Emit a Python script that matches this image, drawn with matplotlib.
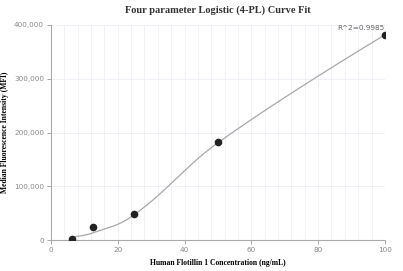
import numpy as np
import matplotlib
matplotlib.use("Agg")
import matplotlib.pyplot as plt
from matplotlib.ticker import FuncFormatter, MultipleLocator

conc = [6.25, 12.5, 25, 50, 100]
mfi = [1500, 24500, 48000, 181500, 381500]
fit_mfi = [5600, 13300, 47500, 181000, 381500]   # fitted 4PL values
r2_label = "R^2=0.9985"

fig = plt.figure(figsize=(4.03, 2.71), dpi=100)
ax = fig.add_axes([0.1266, 0.114, 0.8284, 0.794])
ax.set_xlim(0, 100)
ax.set_ylim(0, 400000)


def spline_path(px, py, smoothing=1.5, n=40):
    """Smooth cubic-Bezier spline through pixel points (chart-style spline)."""
    m = len(px)
    denom = smoothing + 1
    lc = [None] * m
    rc = [None] * m
    for i in range(1, m - 1):
        x0, y0 = px[i], py[i]
        lx, ly = px[i - 1], py[i - 1]
        nx, ny = px[i + 1], py[i + 1]
        lcx = (smoothing * x0 + lx) / denom
        lcy = (smoothing * y0 + ly) / denom
        rcx = (smoothing * x0 + nx) / denom
        rcy = (smoothing * y0 + ny) / denom
        corr = 0.0
        if rcx != lcx:
            corr = ((rcy - lcy) * (rcx - x0)) / (rcx - lcx) + y0 - rcy
        lcy += corr
        rcy += corr
        if lcy > ly and lcy > y0:
            lcy = max(ly, y0); rcy = 2 * y0 - lcy
        elif lcy < ly and lcy < y0:
            lcy = min(ly, y0); rcy = 2 * y0 - lcy
        if rcy > ny and rcy > y0:
            rcy = max(ny, y0); lcy = 2 * y0 - rcy
        elif rcy < ny and rcy < y0:
            rcy = min(ny, y0); lcy = 2 * y0 - rcy
        lc[i] = (lcx, lcy)
        rc[i] = (rcx, rcy)
    out_x, out_y = [px[0]], [py[0]]
    t = np.linspace(0, 1, n)[1:]
    for i in range(1, m):
        p0 = np.array([px[i - 1], py[i - 1]])
        p1 = np.array(rc[i - 1] if rc[i - 1] is not None else p0)
        p3 = np.array([px[i], py[i]])
        p2 = np.array(lc[i] if lc[i] is not None else p3)
        b = ((1 - t) ** 3)[:, None] * p0 + (3 * (1 - t) ** 2 * t)[:, None] * p1 \
            + (3 * (1 - t) * t ** 2)[:, None] * p2 + (t ** 3)[:, None] * p3
        out_x.extend(b[:, 0]); out_y.extend(b[:, 1])
    return np.array(out_x), np.array(out_y)


disp = ax.transData.transform(np.column_stack([conc, fit_mfi]))
sx, sy = spline_path(disp[:, 0], disp[:, 1])
curve = ax.transData.inverted().transform(np.column_stack([sx, sy]))
ax.plot(curve[:, 0], curve[:, 1], color="#a8a8a8", lw=0.9, zorder=2)
ax.scatter(conc, mfi, s=20, color="#222222", zorder=3)

ax.xaxis.set_major_locator(MultipleLocator(20))
ax.xaxis.set_minor_locator(MultipleLocator(4))
ax.yaxis.set_major_locator(MultipleLocator(100000))
ax.yaxis.set_major_formatter(FuncFormatter(lambda v, p: f"{int(v):,}"))
ax.grid(True, which="both", axis="x", color="#eeeef5", lw=0.6, zorder=0)
ax.grid(True, which="major", axis="y", color="#eeeef5", lw=0.6, zorder=0)
ax.tick_params(which="minor", length=0)
ax.tick_params(which="major", length=3, width=0.6, color="#999999",
               labelsize=5.2, labelcolor="#888888", pad=2)
for s in ["top", "right"]:
    ax.spines[s].set_visible(False)
for s in ["left", "bottom"]:
    ax.spines[s].set_color("#aaaaaa")
    ax.spines[s].set_linewidth(0.8)
ax.set_axisbelow(True)
ax.text(100, 388000, r2_label, fontsize=5.2, color="#666666", ha="right", va="bottom")
ax.set_title("Four parameter Logistic (4-PL) Curve Fit", fontsize=7.5,
             fontweight="bold", family="Liberation Serif", color="#333333", pad=9)
ax.set_xlabel("Human Flotillin 1 Concentration (ng/mL)", fontsize=5.5,
              fontweight="bold", family="Liberation Serif", labelpad=4)
ax.set_ylabel("Median Fluorescence Intensity (MFI)", fontsize=5.5,
              fontweight="bold", family="Liberation Serif", labelpad=4)
fig.savefig("out.png", dpi=100, facecolor="white")
